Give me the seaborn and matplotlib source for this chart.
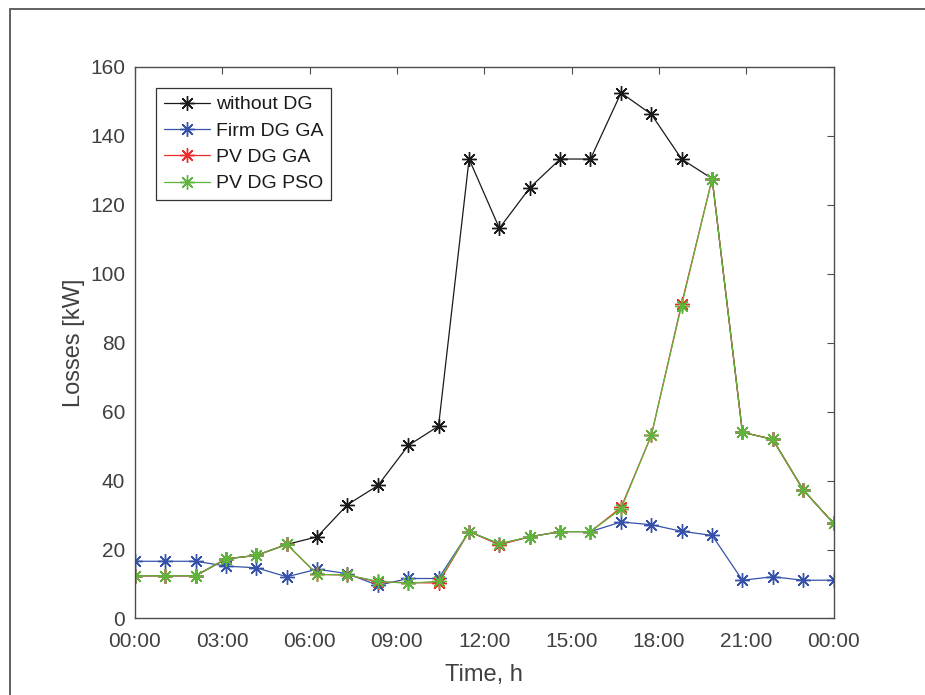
import matplotlib
matplotlib.use("Agg")
import matplotlib.pyplot as plt
import matplotlib.patches as mpatches
import numpy as np
import seaborn as sns

# hours of the 24 samples (00:00 .. 24:00, evenly spread)
hours = [0.00, 1.04, 2.09, 3.13, 4.17, 5.22, 6.26, 7.30, 8.35, 9.39, 10.43, 11.48,
         12.52, 13.57, 14.61, 15.65, 16.70, 17.74, 18.78, 19.83, 20.87, 21.91, 22.96, 24.00]

without_dg = [12.4, 12.4, 12.4, 17.3, 18.3, 21.5, 23.7, 33.0, 38.6, 50.2, 55.8, 133.3,
              113.2, 125.0, 133.3, 133.3, 152.5, 146.3, 133.3, 127.6, 54.0, 52.0, 37.3, 27.6]
firm_dg_ga = [16.6, 16.6, 16.6, 15.2, 14.7, 12.1, 14.3, 13.0, 9.6, 11.6, 11.6, 25.2,
              21.6, 23.7, 25.2, 25.2, 28.0, 27.2, 25.3, 24.1, 11.1, 12.1, 11.1, 11.1]
pv_dg_ga = [12.4, 12.4, 12.4, 17.3, 18.3, 21.5, 12.8, 12.6, 10.6, 10.4, 10.3, 25.2,
            21.4, 23.7, 25.2, 25.2, 32.2, 53.1, 91.3, 127.6, 54.0, 52.0, 37.3, 27.6]
pv_dg_pso = [12.4, 12.4, 12.4, 17.3, 18.3, 21.5, 12.8, 12.6, 10.8, 10.2, 10.8, 25.2,
             21.7, 23.7, 25.2, 25.2, 31.8, 53.1, 90.8, 127.6, 54.0, 52.0, 37.3, 27.6]

series = [
    ("without DG", without_dg, "#1a1a1a"),
    ("Firm DG GA", firm_dg_ga, "#3552a8"),
    ("PV DG GA", pv_dg_ga, "#ee2a2a"),
    ("PV DG PSO", pv_dg_pso, "#5db53c"),
]

xtick_pos = [0, 3, 6, 9, 12, 15, 18, 21, 24]
xtick_labels = ["00:00", "03:00", "06:00", "09:00", "12:00", "15:00", "18:00", "21:00", "00:00"]
ytick_pos = [0, 20, 40, 60, 80, 100, 120, 140, 160]

sns.set_style("white")
plt.rcParams['font.family'] = ['Liberation Sans', 'DejaVu Sans']

fig = plt.figure(figsize=(9.25, 6.95), dpi=100)
ax = fig.add_axes([0.1459, 0.1101, 0.7552, 0.7935])

for name, vals, col in series:
    sns.lineplot(x=hours, y=vals, ax=ax, label=name, color=col, linewidth=0.9,
                 marker=(8, 2, 0), markersize=10.5, markeredgecolor=col,
                 markeredgewidth=1.0, markerfacecolor=col)

ax.set_xlim(0, 24)
ax.set_ylim(0, 160)
ax.set_xticks(xtick_pos)
ax.set_xticklabels(xtick_labels)
ax.set_yticks(ytick_pos)

gray = "#4d4d4d"
for sp in ax.spines.values():
    sp.set_visible(True)
    sp.set_color(gray)
    sp.set_linewidth(1.0)
ax.tick_params(direction="in", length=5, width=0.8, colors=gray, labelsize=15,
               top=True, right=True, labelcolor="#404040")
ax.tick_params(axis="x", pad=10)
ax.tick_params(axis="y", pad=7)

ax.set_xlabel("Time, h", fontsize=17, color="#404040", labelpad=9)
ax.set_ylabel("Losses [kW]", fontsize=17, color="#404040", labelpad=4)

leg = ax.legend(loc="upper left", bbox_to_anchor=(0.030, 0.962), borderaxespad=0,
                fontsize=14, frameon=True, fancybox=False, framealpha=1,
                handlelength=2.4, handletextpad=0.3, labelspacing=0.45,
                borderpad=0.4)
leg.get_frame().set_edgecolor("#333333")
leg.get_frame().set_linewidth(0.9)
for t in leg.get_texts():
    t.set_color("#1a1a1a")

# outer frame of the exported figure (only top and left edges visible)
fig.patches.append(mpatches.Rectangle((9.5 / 925, -0.1), 2.0, 1.1 - 8.5 / 695,
                                      transform=fig.transFigure, fill=False,
                                      edgecolor="#555555", linewidth=1.3))

fig.savefig("out.png", dpi=100)
